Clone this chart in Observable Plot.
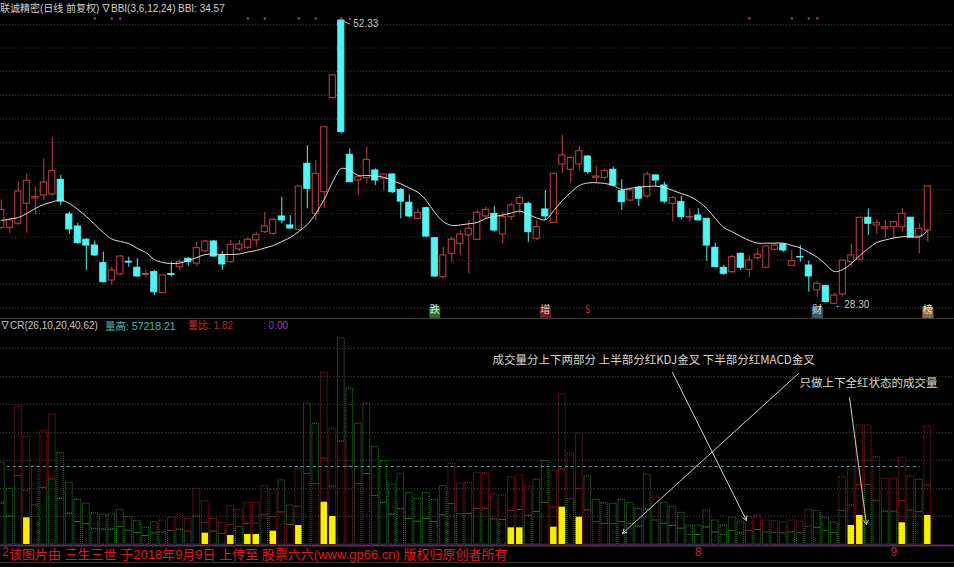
<!DOCTYPE html>
<html>
<head>
<meta charset="utf-8">
<script src="https://cdn.jsdelivr.net/npm/d3@7"></script>
<script src="https://cdn.jsdelivr.net/npm/@observablehq/plot@0.6"></script>
<style>
  html, body { margin: 0; padding: 0; background: #000; }
  #chart { position: relative; width: 954px; height: 567px; background: #000; overflow: hidden;
           font-family: "Liberation Sans", "Noto Sans CJK SC", sans-serif; }
  #chart svg { position: absolute; left: 0; }
  .t { position: absolute; white-space: nowrap; font-size: 10px; line-height: 12px; }
</style>
</head>
<body>
<div id="chart"></div>
<script>
// ---- daily prices (联诚精密, daily, forward-adjusted) ----
const open = [
  34.79, 34.79, 35.13, 36.82, 37.27, 37.52, 37.61, 38.85, 35.92, 34.90,
  33.78, 33.29, 31.80, 30.33, 30.84, 31.91, 31.41, 30.80, 31.04, 29.26,
  30.88, 31.46, 32.17, 31.75, 32.79, 33.63, 32.45, 31.88, 32.96, 33.10,
  33.72, 34.42, 34.28, 35.75, 34.99, 34.62, 40.21, 35.97, 37.80, 45.76,
  52.33, 40.97, 38.79, 38.99, 39.64, 38.94, 39.30, 38.00, 36.91, 35.55,
  36.45, 33.91, 30.61, 32.59, 33.44, 34.14, 33.78, 35.75, 35.97, 34.22,
  35.69, 36.82, 36.82, 33.86, 36.34, 35.21, 40.15, 39.70, 40.15, 40.82,
  39.02, 39.02, 39.70, 37.89, 37.10, 38.18, 37.44, 39.22, 38.37, 36.82,
  36.96, 35.66, 35.83, 35.55, 33.10, 31.41, 31.03, 32.59, 31.24, 32.22,
  31.41, 32.93, 33.38, 31.58, 32.32, 31.60, 29.49, 29.85, 28.36, 29.15,
  31.88, 32.08, 35.64, 34.99, 34.71, 34.84, 34.84, 35.64, 34.05, 34.56
];
const high = [
  37.16, 35.58, 38.65, 39.36, 38.23, 40.63, 42.40, 39.22, 36.11, 35.18,
  33.89, 33.66, 32.73, 31.46, 32.45, 32.30, 32.17, 31.18, 31.18, 30.76,
  31.88, 32.08, 32.25, 33.57, 33.72, 33.72, 32.79, 33.72, 33.72, 33.94,
  34.42, 36.11, 35.58, 37.38, 35.83, 38.29, 41.75, 40.49, 43.36, 47.76,
  52.33, 41.47, 39.22, 41.61, 39.78, 39.36, 39.35, 38.11, 37.58, 36.40,
  36.53, 33.95, 33.15, 34.00, 34.56, 35.41, 36.25, 36.53, 36.59, 36.11,
  36.87, 37.52, 36.96, 35.41, 37.95, 39.40, 42.60, 40.82, 41.67, 40.91,
  39.98, 39.78, 39.92, 38.85, 38.09, 38.29, 39.50, 39.25, 38.65, 37.44,
  37.44, 36.40, 36.40, 35.60, 33.49, 31.60, 32.45, 32.65, 32.45, 33.01,
  33.25, 33.44, 33.42, 32.87, 33.29, 31.97, 30.27, 29.90, 29.23, 32.05,
  33.38, 35.66, 36.40, 35.41, 35.41, 35.30, 36.40, 35.66, 35.13, 38.30
];
const low = [
  34.65, 34.31, 34.99, 34.33, 35.91, 37.10, 37.44, 36.68, 34.22, 33.38,
  31.18, 32.36, 30.10, 29.91, 30.76, 31.46, 30.61, 30.56, 29.06, 29.26,
  30.61, 31.18, 31.54, 31.54, 32.70, 32.28, 31.18, 31.77, 32.79, 32.93,
  33.15, 34.31, 34.14, 35.13, 34.69, 34.62, 36.40, 35.41, 36.43, 45.69,
  42.80, 38.60, 37.52, 38.51, 38.37, 37.89, 37.67, 35.55, 35.66, 35.49,
  33.95, 30.60, 30.48, 31.88, 32.45, 30.90, 33.72, 35.58, 34.42, 33.44,
  35.41, 35.97, 33.57, 33.72, 35.41, 35.20, 39.36, 38.51, 39.64, 39.30,
  38.56, 38.85, 38.23, 36.25, 36.96, 36.59, 37.25, 38.29, 36.82, 35.27,
  35.47, 35.27, 35.40, 31.94, 31.40, 30.76, 30.92, 31.18, 30.61, 32.02,
  31.38, 32.81, 32.73, 31.55, 31.88, 29.34, 28.92, 28.45, 28.30, 28.92,
  31.46, 32.05, 34.14, 34.22, 33.86, 33.78, 34.39, 33.93, 32.59, 33.57
];
const close = [
  36.31, 35.41, 37.86, 38.77, 37.40, 38.62, 39.58, 37.01, 34.65, 33.49,
  33.29, 32.45, 30.19, 31.18, 32.36, 31.85, 30.67, 30.88, 29.34, 30.76,
  30.80, 31.88, 31.88, 33.07, 33.63, 32.36, 31.69, 33.35, 33.38, 33.78,
  34.20, 34.90, 35.47, 35.41, 34.73, 38.29, 38.09, 39.36, 43.30, 47.68,
  42.88, 38.65, 39.07, 40.54, 38.79, 39.30, 37.80, 37.01, 35.75, 36.06,
  34.05, 30.67, 32.45, 33.78, 34.22, 34.71, 36.06, 36.31, 34.56, 35.69,
  36.68, 37.30, 34.42, 34.84, 35.75, 39.36, 40.91, 40.71, 41.27, 39.50,
  39.13, 39.58, 38.37, 36.96, 37.95, 37.25, 39.30, 38.79, 37.01, 37.30,
  35.69, 35.72, 35.41, 33.29, 31.46, 30.90, 32.30, 31.41, 32.02, 32.51,
  33.21, 33.29, 32.87, 31.97, 32.28, 30.67, 30.05, 28.50, 29.06, 32.02,
  32.45, 35.64, 35.13, 35.18, 34.84, 35.27, 35.97, 33.95, 34.71, 38.29
];
// BBI(3,6,12,24)
const bbi = [
  35.41, 35.53, 35.66, 36.00, 36.42, 36.76, 36.97, 37.14, 36.85, 36.34,
  35.75, 35.07, 34.39, 33.84, 33.63, 33.46, 33.04, 32.70, 32.11, 31.85,
  31.77, 31.80, 32.02, 32.28, 32.53, 32.57, 32.53, 32.53, 32.57, 32.74,
  32.87, 33.08, 33.29, 33.63, 33.97, 34.48, 35.07, 36.00, 37.19, 38.71,
  39.81, 39.64, 39.22, 39.22, 39.17, 39.07, 38.79, 38.51, 38.16, 37.80,
  37.10, 36.08, 35.32, 34.99, 35.03, 35.13, 35.24, 35.58, 35.75, 35.87,
  36.04, 36.20, 35.92, 35.62, 35.47, 36.25, 37.10, 37.78, 38.37, 38.58,
  38.60, 38.54, 38.37, 38.03, 38.12, 38.24, 38.28, 38.31, 38.20, 37.95,
  37.69, 37.44, 37.02, 36.42, 35.58, 34.82, 34.44, 34.06, 33.72, 33.49,
  33.49, 33.49, 33.49, 33.29, 33.10, 32.70, 32.30, 31.69, 31.09, 31.26,
  31.77, 32.45, 33.04, 33.55, 33.76, 33.93, 34.03, 34.06, 34.01, 34.57
];
// ---- daily volume ----
const volume = [
  29180, 19890, 49040, 38320, 27960, 40460, 46430, 32610, 22040, 15960,
  14540, 11180, 10710, 10710, 12390,  9750,  8320,  5960,  7960,  8570,
   9540, 10710,  9180, 19890, 15460,  9180,  7610, 13680, 12390, 14750,
  14890, 20820, 19540, 22860, 13930, 27040, 50250, 43110, 61320, 41320,
  73570, 55610, 43110, 50250, 34750, 29750, 21430, 25250, 18320, 16320,
  18320, 15960, 20820, 28820, 21680, 21890, 25460, 25460, 17860, 17500,
  24040, 24640, 20460, 23110, 29750, 26430, 53570, 32390, 39540, 24290,
  15960, 14750, 14540, 15960, 14750, 12750, 25000, 17140, 14890, 13320,
  11320,  6790,  6790, 12140,  8570,  6790,  9540,  7960,  9750, 10360,
   8570,  8320,  7960,  8570,  8210, 12390, 11890,  9540,  7960, 24040,
  27860, 42500, 42500, 31180, 23460, 23460, 30960, 24290, 23110, 42140
];
// upper half red = KDJ golden cross state
const kdjRed = [
  0,0,1,1,1,1,1,0,0,0,  0,0,0,0,0,0,0,0,0,1,  1,1,1,1,1,1,1,1,1,1,
  1,1,1,0,0,1,0,0,1,1,  0,0,0,0,0,0,0,0,0,0,  0,0,0,1,1,1,1,1,1,1,
  1,1,1,0,0,1,1,1,1,0,  0,0,0,0,0,0,0,1,0,0,  0,0,0,0,0,0,0,0,1,1,
  1,1,1,1,1,1,0,0,0,1,  1,1,1,1,1,1,1,1,0,1
];
// lower half red = MACD golden cross state
const macdRed = [
  0,0,0,1,0,0,0,0,0,0,  0,0,0,0,0,0,0,0,0,0,  0,0,0,0,1,0,0,1,0,1,
  1,0,1,1,1,1,1,1,1,1,  1,1,1,1,0,0,0,0,0,0,  0,0,0,0,0,0,0,0,0,0,
  1,1,0,0,1,1,1,0,1,1,  1,1,0,0,0,0,0,0,0,0,  0,0,0,0,0,0,0,0,0,0,
  0,0,0,0,0,0,0,0,0,0,  1,1,0,0,0,0,1,0,1,1
];
// days where both halves are red, and the highlighted volume drawn for them
const fullRedDays = [3, 24, 27, 29, 30, 32, 35, 38, 39, 60, 61, 65, 66, 68, 100, 101, 106, 109];
const fullRedVol  = [9540, 4040, 3210, 3570, 3570, 4750, 6790, 15110, 10000, 5960, 5960, 6180, 13320, 9750, 6790, 10360, 7750, 10360];
const volRefLevel = 27860;

// ---- markers and labels ----
const topFlagDays = [11, 13, 14, 29, 31, 35, 37, 40, 41, 88, 93, 95, 96];
const signalDays  = [51, 64, 69, 96, 109];
const signalText  = ["跌", "增", "$", "财", "榜"];
const signalBg    = ["#2c6b2c", "#6e1c1c", "none", "#2f5a70", "#8a6a40"];
const signalFg    = ["#d8f0d8", "#f0d0d0", "#e03030", "#d8e8f0", "#f5e6c8"];
const monthDays   = [0, 82, 105];
const monthText   = ["2", "8", "9"];
const priceGrid   = d3.range(28, 53, 2);
const volGrid     = d3.range(10000, 70001, 10000);

const RED = "#c24444", CYAN = "#55f2f2";
const VOL_RED = "#9e2424", VOL_GREEN = "#2e8a2e";

const n = open.length;
const days = d3.range(n).map(i => ({i, o: open[i], h: high[i], l: low[i], c: close[i], b: bbi[i]}));
const upDays = days.filter(d => d.c >= d.o);
const downDays = days.filter(d => d.c < d.o);
const xScale = {domain: [0, n - 1], range: [0.8, 927.3], axis: null};
const bare = {marginTop: 0, marginRight: 0, marginBottom: 0, marginLeft: 0,
              style: {background: "transparent", overflow: "visible"}};

const hiDay = d3.maxIndex(high), loDay = d3.minIndex(low);

const pricePlot = Plot.plot({
  ...bare, width: 954, height: 318,
  x: xScale,
  y: {domain: [d3.min(low), d3.max(high)], range: [304, 20], axis: null},
  color: {type: "identity"},
  marks: [
    Plot.ruleY(priceGrid, {stroke: "#3a3a3a", strokeDasharray: "1,2"}),
    Plot.dot(topFlagDays, {x: d => d, frameAnchor: "top", dy: 18, r: 1.2, fill: "#9a3a9a"}),
    Plot.ruleX(upDays, {x: "i", y1: "l", y2: "h", stroke: RED}),
    Plot.ruleX(downDays, {x: "i", y1: "l", y2: "h", stroke: CYAN}),
    Plot.rect(upDays, {x1: d => d.i - 0.36, x2: d => d.i + 0.36, y1: "o", y2: "c", fill: "#000", stroke: RED}),
    Plot.rect(downDays, {x1: d => d.i - 0.36, x2: d => d.i + 0.36, y1: "o", y2: "c", fill: CYAN, stroke: CYAN}),
    Plot.line(days, {x: "i", y: "b", stroke: "#dcdcdc", strokeWidth: 1, curve: "catmull-rom"}),
    Plot.link([hiDay], {x1: d => d, y1: d => high[d], x2: d => d + 1, y2: d => high[d] - 0.28, stroke: "#bbb"}),
    Plot.text([hiDay], {x: d => d, y: d => high[d], text: d => high[d].toFixed(2), dx: 12, dy: 3,
      textAnchor: "start", fill: "#c8c8c8", fontSize: 10, fontFamily: "Liberation Sans"}),
    Plot.text([loDay], {x: d => d, y: d => low[d], text: d => "←" + low[d].toFixed(2), dx: 0,
      textAnchor: "start", fill: "#c8c8c8", fontSize: 10, fontFamily: "Liberation Sans"}),
    Plot.dot(signalDays.map((d, k) => k).filter(k => signalBg[k] !== "none"), {
      x: k => signalDays[k], frameAnchor: "bottom", dy: -6, symbol: "square", r: 6.2, fill: k => signalBg[k]}),
    Plot.text(signalDays.map((d, k) => k), {x: k => signalDays[k], frameAnchor: "bottom", dy: -6,
      text: k => signalText[k], fill: k => signalFg[k], fontSize: 10, fontFamily: "Noto Sans CJK SC"})
  ]
});
pricePlot.style.top = "0px";

const halves = days.flatMap(d => [
  {i: d.i, y1: 0, y2: volume[d.i] / 2, red: macdRed[d.i]},
  {i: d.i, y1: volume[d.i] / 2, y2: volume[d.i], red: kdjRed[d.i]}
]);
const fullRed = fullRedDays.map((d, k) => ({i: d, v: fullRedVol[k]}));

// annotation arrows, in (day, volume) coordinates
const noteArrows = [
  {x1: 78.96, y1: 61430, x2: 87.67, y2: 8570},
  {x1: 93.79, y1: 61070, x2: 73.08, y2: 3930},
  {x1: 99.79, y1: 52500, x2: 101.79, y2: 7140}
];
const noteText = [
  {x: 57.8, y: 65710, t: "成交量分上下两部分 上半部分红KDJ金叉 下半部分红MACD金叉"},
  {x: 93.9, y: 57500, t: "只做上下全红状态的成交量"}
];
const monthIdx = monthDays.map((d, k) => k);

const volPlot = Plot.plot({
  ...bare, width: 954, height: 249,
  x: xScale,
  y: {domain: [0, 70000], range: [226, 30], axis: null},
  color: {type: "identity"},
  marks: [
    Plot.ruleY(volGrid, {stroke: "#3a3a3a", strokeDasharray: "1,2"}),
    Plot.rect(halves, {x1: d => d.i - 0.4, x2: d => d.i + 0.4, y1: "y1", y2: "y2", fill: "none",
      stroke: d => d.red ? VOL_RED : VOL_GREEN, strokeDasharray: "1,1"}),
    Plot.ruleY([volRefLevel], {x1: 0.7, x2: 108.1, stroke: "#4f9c9c", strokeDasharray: "3,3"}),
    Plot.rect(fullRed, {x1: d => d.i - 0.38, x2: d => d.i + 0.38, y1: 0, y2: "v", fill: "#f0f000"}),
    Plot.ruleY([0], {stroke: "#5a2a62", strokeWidth: 2, dy: 1}),
    Plot.arrow(noteArrows, {x1: "x1", y1: "y1", x2: "x2", y2: "y2", stroke: "#cfcfc0", headLength: 7, strokeWidth: 1}),
    Plot.text(noteText, {x: "x", y: "y", text: "t", textAnchor: "start", fill: "#dadacb", fontSize: 11.5,
      fontFamily: "Noto Sans CJK SC"}),
    // month labels: the first sits flush at the left edge, the rest centred on their day
    Plot.text(monthIdx.slice(0, 1), {x: k => monthDays[k], frameAnchor: "bottom", dy: -12,
      text: k => monthText[k], textAnchor: "start", dx: 1, fill: "#b03030", fontSize: 12, fontFamily: "Liberation Sans"}),
    Plot.text(monthIdx.slice(1), {x: k => monthDays[k], frameAnchor: "bottom", dy: -12,
      text: k => monthText[k], fill: "#b03030", fontSize: 12, fontFamily: "Liberation Sans"})
  ]
});
volPlot.style.top = "318px";

const chart = document.getElementById("chart");
chart.append(pricePlot, volPlot);

function label(parts, left, top, size) {
  const el = document.createElement("div");
  el.className = "t";
  for (const [text, color] of parts) {
    const s = document.createElement("span");
    s.textContent = text;
    s.style.color = color;
    el.append(s);
  }
  el.style.left = left + "px";
  el.style.top = top + "px";
  if (size) el.style.fontSize = size + "px";
  chart.append(el);
  return el;
}
// panel headers
label([["联诚精密(日线 前复权)", "#d0d0d0"]], 0, 3);
label([["∇BBI(3,6,12,24)", "#d0d0d0"]], 101, 3);
label([["BBI: 34.57", "#d0d0d0"]], 178, 3);
label([["∇CR(26,10,20,40,62)", "#c8c8c8"]], 0, 320);
label([["量高: 57218.21", "#4cb8b8"]], 105, 320, 10.5);
label([["量比: ", "#d03030"], ["1.82", "#a83030"]], 188, 320);
label([[": 0.00", "#9a40aa"]], 263, 320);
// panel separator
const sep = document.createElement("div");
Object.assign(sep.style, {position: "absolute", left: "0px", top: "318px", width: "954px", height: "1px", background: "#3a3a3a"});
chart.append(sep);
// footer
label([["该图片由 三生三世 于2018年9月9日 上传至 股票六六(www.gp66.cn) 版权归原创者所有", "#e01a1a"]], 9, 548, 13).style.lineHeight = "14px";
const foot = document.createElement("div");
Object.assign(foot.style, {position: "absolute", left: "0px", top: "562px", width: "954px", height: "1px", background: "#333"});
chart.append(foot);
</script>
</body>
</html>
